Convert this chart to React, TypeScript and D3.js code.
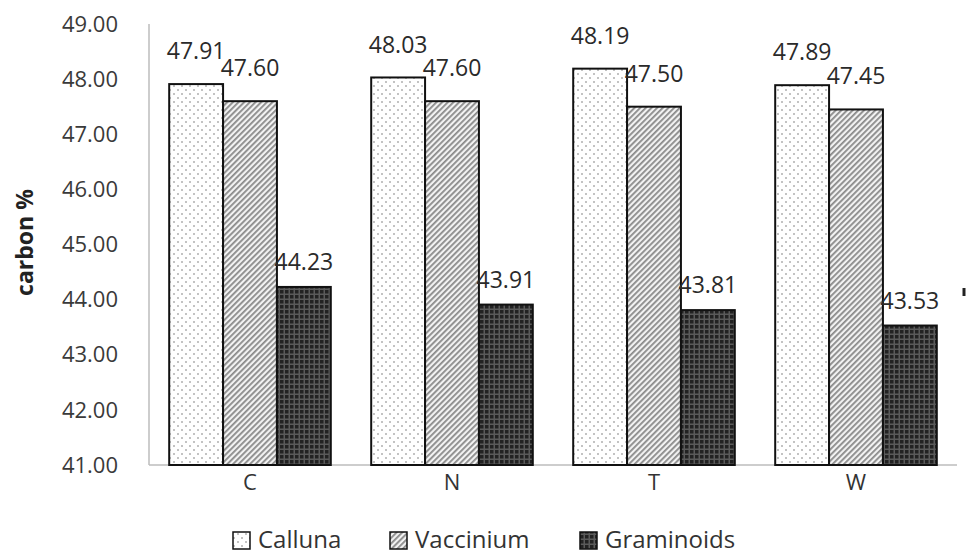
import React from "react";
import * as d3 from "d3";

const categories = ["C", "N", "T", "W"];
const seriesNames = ["Calluna", "Vaccinium", "Graminoids"];
const calluna = [47.91, 48.03, 48.19, 47.89];
const vaccinium = [47.6, 47.6, 47.5, 47.45];
const graminoids = [44.23, 43.91, 43.81, 43.53];
const yTicks = [41, 42, 43, 44, 45, 46, 47, 48, 49];

const W = 973;
const H = 557;
const M = { left: 149, right: 16, top: 24, bottom: 92 };

export default function App() {
  const series = [calluna, vaccinium, graminoids];
  const x0 = d3.scaleBand<string>().domain(categories).range([M.left, W - M.right]).paddingInner(0.2).paddingOuter(0.1);
  const x1 = d3.scaleBand<string>().domain(seriesNames).range([0, x0.bandwidth()]);
  const y = d3.scaleLinear().domain([41, 49]).range([H - M.bottom, M.top]);
  const fills = ["url(#pDots)", "url(#pHatch)", "url(#pDark)"];
  const labelLift = [33, 33, 25];
  const font = "'Open Sans', 'Noto Sans', sans-serif";
  const legendX = [233, 390, 580];

  return (
    <svg width={W} height={H} style={{ position: "absolute", left: 0, top: 0, background: "#fff" }} fontFamily={font}>
      <defs>
        <pattern id="pDots" width="8" height="8" patternUnits="userSpaceOnUse">
          <rect width="8" height="8" fill="#fff" />
          <circle cx="2" cy="2" r="0.8" fill="#777" />
          <circle cx="6" cy="6" r="0.8" fill="#777" />
        </pattern>
        <pattern id="pHatch" width="4" height="4" patternUnits="userSpaceOnUse" patternTransform="rotate(45)">
          <rect width="4" height="4" fill="#f2f2f2" />
          <rect width="1.8" height="4" fill="#8a8a8a" />
        </pattern>
        <pattern id="pDark" width="5" height="5" patternUnits="userSpaceOnUse">
          <rect width="5" height="5" fill="#5a5a5a" />
          <rect width="3.5" height="3.5" fill="#222" />
        </pattern>
      </defs>
      <line x1={M.left} x2={M.left} y1={M.top} y2={y(41)} stroke="#bdbdbd" strokeWidth={1.5} />
      <line x1={M.left} x2={W - M.right} y1={y(41)} y2={y(41)} stroke="#bdbdbd" strokeWidth={1.5} />
      {yTicks.map((t) => (
        <text key={t} x={M.left - 31} y={y(t)} dy="0.35em" textAnchor="end" fontSize={22} fill="#3a3a3a">
          {t.toFixed(2)}
        </text>
      ))}
      <text transform={`translate(25,${(y(41) + y(49)) / 2 - 2}) rotate(-90)`} dy="0.35em" textAnchor="middle" fontSize={23} fontWeight="bold" fill="#222">
        carbon %
      </text>
      {categories.map((c, i) => (
        <g key={c}>
          {series.map((s, j) => {
            const bx = (x0(c) as number) + (x1(seriesNames[j]) as number);
            const bw = x1.bandwidth();
            return (
              <g key={j}>
                <rect x={bx} y={y(s[i])} width={bw} height={y(41) - y(s[i])} fill={fills[j]} stroke="#111" strokeWidth={2} />
                <text x={bx + bw / 2} y={y(s[i]) - labelLift[j]} dy="0.35em" textAnchor="middle" fontSize={23} fill="#2a2a2a">
                  {s[i].toFixed(2)}
                </text>
              </g>
            );
          })}
          <text x={(x0(c) as number) + x0.bandwidth() / 2} y={y(41) + 17} dy="0.35em" textAnchor="middle" fontSize={22} fill="#333">
            {c}
          </text>
        </g>
      ))}
      {seriesNames.map((n, j) => (
        <g key={n}>
          <rect x={legendX[j]} y={532} width={17} height={17} fill={fills[j]} stroke="#111" strokeWidth={1.5} />
          <text x={legendX[j] + 25} y={540} dy="0.35em" fontSize={24} fill="#333">
            {n}
          </text>
        </g>
      ))}
      <line x1={964} x2={964} y1={288} y2={296} stroke="#222" strokeWidth={3} />
    </svg>
  );
}
